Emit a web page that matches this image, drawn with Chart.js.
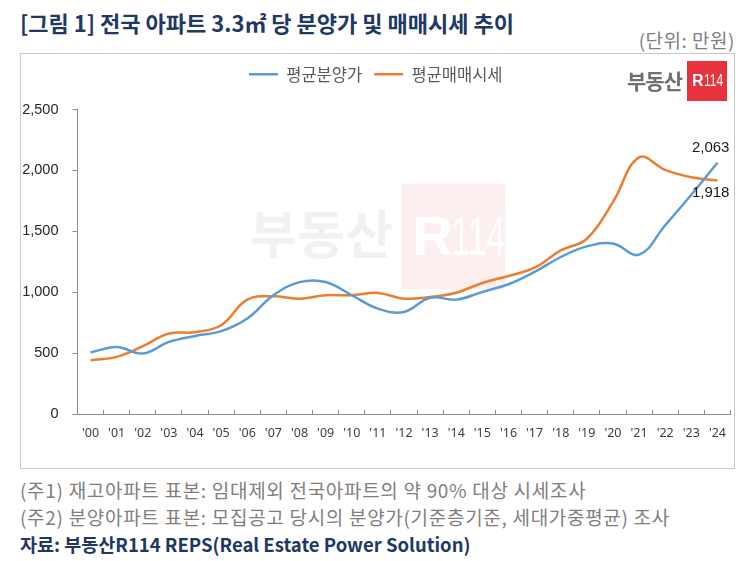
<!DOCTYPE html>
<html><head><meta charset="utf-8">
<script src="https://cdn.jsdelivr.net/npm/chart.js@4"></script>
<style>
html,body{margin:0;padding:0;background:#fff;width:750px;height:561px;overflow:hidden;position:relative;font-family:"Noto Sans CJK KR",sans-serif;}
#title{position:absolute;left:20px;top:7px;font-size:22px;font-weight:bold;color:#203864;white-space:nowrap;line-height:30px;}
#unit{position:absolute;right:15px;top:27px;font-size:19px;letter-spacing:0.5px;color:#7f7f7f;white-space:nowrap;line-height:26px;}
#box{position:absolute;left:20px;top:53px;width:713px;height:414px;border:1px solid #c9c9c9;}
#wrap{position:absolute;left:21px;top:54px;width:712px;height:413px;}
#logoTxt{position:absolute;left:627px;top:66px;font-size:21px;font-weight:bold;color:#707070;line-height:28px;letter-spacing:-1px;}
#logoBox{position:absolute;left:687px;top:61px;width:40px;height:40px;background:#e8323c;color:#fff;}
#logoBox .r{position:absolute;left:5px;top:11px;font:bold 16px "Liberation Sans",sans-serif;line-height:18px;}
#logoBox .n{position:absolute;left:17px;top:11px;font:16px "Liberation Sans Narrow","Liberation Sans",sans-serif;line-height:18px;transform:scaleX(0.75);transform-origin:left;}
.note{position:absolute;left:20px;font-size:19px;letter-spacing:0.7px;color:#7f7f7f;white-space:nowrap;line-height:26px;}
#src{position:absolute;left:20px;top:531px;font-size:18.5px;font-weight:bold;color:#203864;white-space:nowrap;line-height:26px;}
</style></head>
<body>
<div id="title">[그림 1] 전국 아파트 3.3㎡ 당 분양가 및 매매시세 추이</div>
<div id="unit">(단위: 만원)</div>
<div id="box"></div>
<div id="wrap"><canvas id="c"></canvas></div>
<div id="logoTxt">부동산</div>
<div id="logoBox"><span class="r">R</span><span class="n">114</span></div>
<div class="note" style="top:477px">(주1) 재고아파트 표본: 임대제외 전국아파트의 약 90% 대상 시세조사</div>
<div class="note" style="top:504px">(주2) 분양아파트 표본: 모집공고 당시의 분양가(기준층기준, 세대가중평균) 조사</div>
<div id="src">자료: 부동산R114 REPS(Real Estate Power Solution)</div>
<script>
const years = ["'00","'01","'02","'03","'04","'05","'06","'07","'08","'09","'10","'11","'12","'13","'14","'15","'16","'17","'18","'19","'20","'21","'22","'23","'24"];
const presale = [505, 551, 497, 592, 641, 680, 784, 975, 1083, 1084, 975, 865, 838, 955, 939, 1002, 1065, 1166, 1289, 1376, 1400, 1308, 1550, 1800, 2063];
const market = [442, 469, 557, 661, 672, 729, 939, 966, 947, 975, 975, 994, 947, 961, 996, 1076, 1133, 1201, 1343, 1439, 1740, 2107, 2004, 1944, 1918];
const seriesNames = ["평균분양가", "평균매매시세"];
const yTicks = [0, 500, 1000, 1500, 2000, 2500];

const axisColor = '#8c8c8c';

const legendSpace = {
  id: 'legendSpace',
  afterInit(chart) {
    const lg = chart.legend;
    if (!lg) return;
    const fit = lg.fit;
    lg.fit = function () { fit.call(this); this.height += 17; };
  }
};

const watermark = {
  id: 'watermark',
  beforeDatasetsDraw(chart) {
    const ctx = chart.ctx, a = chart.chartArea;
    ctx.save();
    ctx.fillStyle = '#f1f1f1';
    ctx.font = 'bold 52px "Noto Sans CJK KR"';
    ctx.textAlign = 'left';
    ctx.textBaseline = 'middle';
    ctx.fillText('부동산', a.left + 172, a.top + 125);
    ctx.fillStyle = 'rgba(232,50,60,0.08)';
    ctx.fillRect(a.left + 324, a.top + 74, 104, 106);
    ctx.fillStyle = '#ffffff';
    ctx.font = 'bold 56px "Liberation Sans"';
    ctx.fillText('R', a.left + 335, a.top + 130);
    ctx.font = '56px "Liberation Sans Narrow","Liberation Sans"';
    ctx.save();
    ctx.translate(a.left + 374, a.top + 130);
    ctx.scale(0.6, 1);
    ctx.fillText('114', 0, 0);
    ctx.restore();
    ctx.restore();
  }
};

const endLabels = {
  id: 'endLabels',
  afterDatasetsDraw(chart) {
    const ctx = chart.ctx;
    chart.data.datasets.forEach((ds, i) => {
      const meta = chart.getDatasetMeta(i);
      const pt = meta.data[meta.data.length - 1];
      const v = ds.data[ds.data.length - 1];
      ctx.save();
      ctx.font = '15px "Liberation Sans"';
      ctx.fillStyle = '#1a1a1a';
      ctx.textAlign = 'right';
      ctx.textBaseline = 'middle';
      ctx.fillText(v.toLocaleString('en-US'), pt.x + 12, pt.y + (i === 0 ? -15 : 12));
      ctx.restore();
    });
  }
};

new Chart(document.getElementById('c'), {
  type: 'line',
  data: {
    labels: years,
    datasets: [
      { label: seriesNames[0], data: presale, borderColor: '#5b9bd5', backgroundColor: '#5b9bd5', borderWidth: 2.5, pointRadius: 0, tension: 0.4, fill: false },
      { label: seriesNames[1], data: market, borderColor: '#ed7d31', backgroundColor: '#ed7d31', borderWidth: 2.5, pointRadius: 0, tension: 0.4, fill: false }
    ]
  },
  options: {
    responsive: true,
    maintainAspectRatio: false,
    animation: false,
    devicePixelRatio: 1,
    layout: { padding: { top: 0, right: 2.5, left: 0, bottom: 0 } },
    plugins: {
      legend: {
        position: 'top',
        labels: {
          usePointStyle: true, pointStyle: 'line', pointStyleWidth: 29,
          font: { family: '"Noto Sans CJK KR"', size: 16.5 }, color: '#595959', padding: 12
        }
      },
      tooltip: { enabled: false }
    },
    scales: {
      x: {
        offset: true,
        grid: { display: true, drawOnChartArea: false, drawTicks: true, tickLength: -4, color: axisColor, offset: true },
        border: { display: true, color: axisColor, width: 1 },
        ticks: { autoSkip: false, maxRotation: 0, padding: 16, color: '#404040', font: { family: '"Noto Sans"', size: 12.5 } },
        afterFit(s) { s.height = 53; s.paddingLeft = 0; s.paddingRight = 0; }
      },
      y: {
        min: 0, max: 2500,
        afterBuildTicks(s) { s.ticks = yTicks.map(v => ({ value: v })); },
        grid: { display: true, drawOnChartArea: false, drawTicks: true, tickLength: 5, color: axisColor },
        border: { display: true, color: axisColor, width: 1 },
        ticks: { padding: 14, color: '#262626', font: { family: '"Liberation Sans"', size: 14.5 },
          callback: v => v.toLocaleString('en-US') },
        afterFit(s) { s.width = 56.5; }
      }
    }
  },
  plugins: [legendSpace, watermark, endLabels]
});
</script>
</body></html>
